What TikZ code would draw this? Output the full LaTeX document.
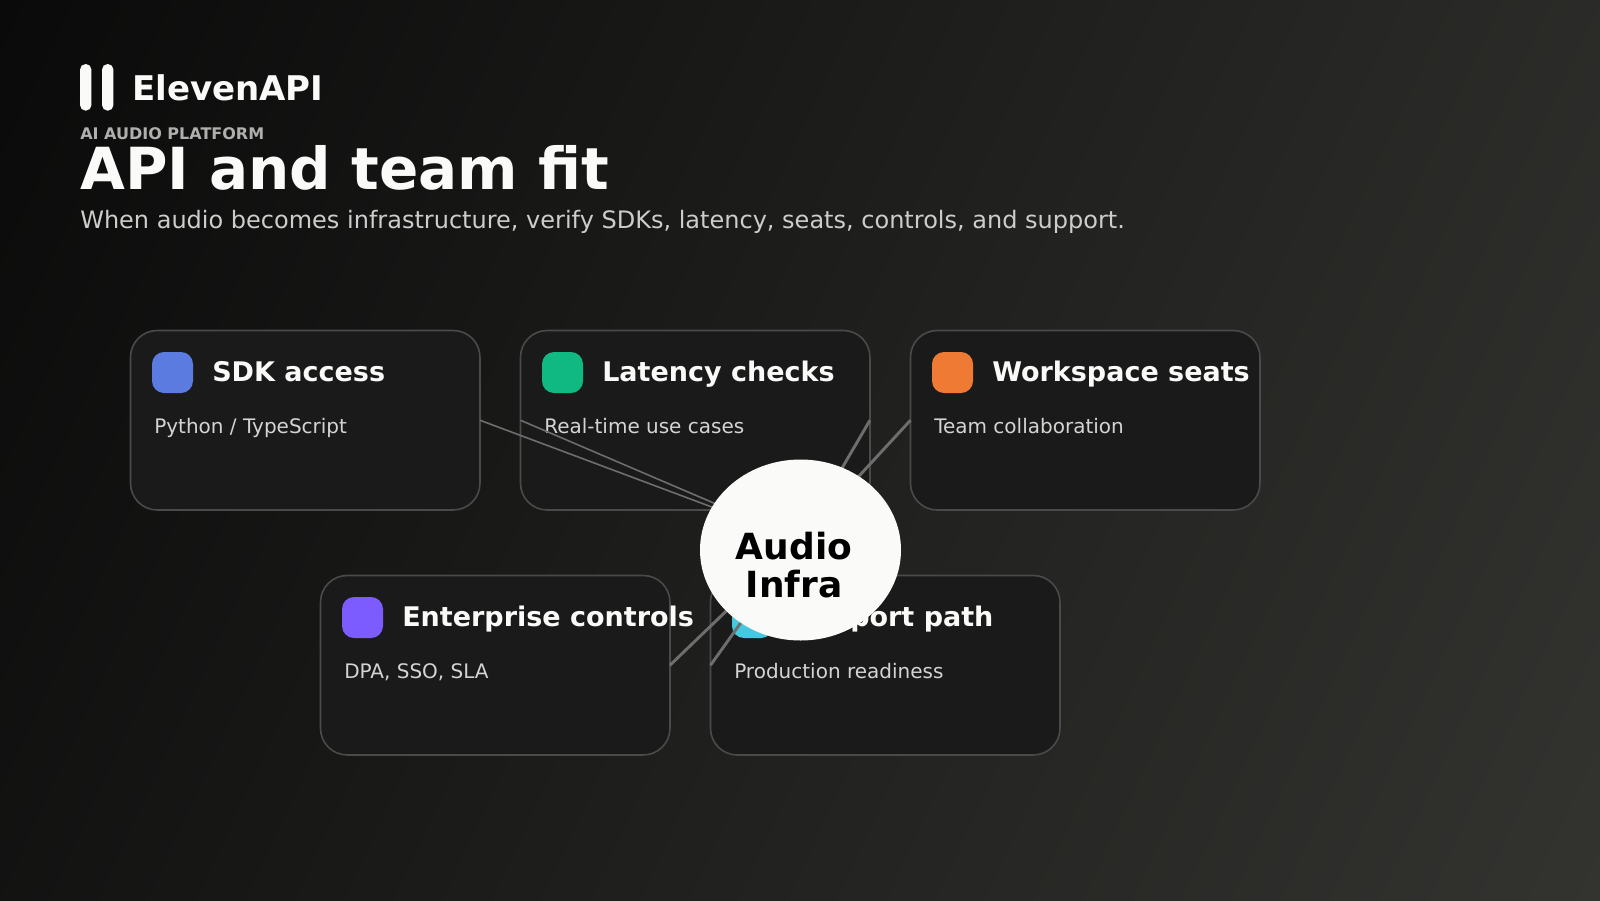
\documentclass[tikz,border=0pt]{standalone}
\usepackage{fontspec}
\setmainfont{DejaVu Sans}
\usetikzlibrary{shapes.geometric}
\definecolor{bgdark}{HTML}{0A0A0A}
\definecolor{bglight}{HTML}{333330}
\definecolor{cardfill}{HTML}{1A1A1A}
\definecolor{cardline}{HTML}{4A4A4A}
\definecolor{linkline}{HTML}{6E6E6E}
\definecolor{paper}{HTML}{FAFAF8}
\definecolor{iconblue}{HTML}{5B7BE0}
\definecolor{icongreen}{HTML}{10B981}
\definecolor{iconorange}{HTML}{EE7A34}
\definecolor{iconpurple}{HTML}{7C5CFF}
\definecolor{iconcyan}{HTML}{45C8E0}
\newcommand{\px}[2]{\fontsize{#1}{#2}\selectfont}
\tikzset{
  card/.style={draw=cardline,fill=cardfill,line width=1.2pt,rounded corners=20pt,
    minimum width=262.1pt,minimum height=134.6pt,inner sep=0pt,outer sep=0pt,anchor=north west},
  icon/.style={fill=#1,rounded corners=9pt,minimum size=30.75pt,inner sep=0pt,outer sep=0pt,anchor=north west},
  cardtitle/.style={text=paper,font=\bfseries\px{20.25}{24},inner sep=0pt,anchor=base west},
  cardtext/.style={text=paper!85!black,font=\px{15}{18},inner sep=0pt,anchor=base west},
  logobar/.style={fill=paper,rounded corners=4.2pt,minimum width=8.6pt,minimum height=35pt,inner sep=0pt,outer sep=0pt,anchor=north west},
  thinlink/.style={draw=linkline,line width=1.2pt},
  thicklink/.style={draw=linkline,line width=2.2pt}
}
\begin{document}
\begin{tikzpicture}[x=0.75pt,y=-0.75pt]
  \useasboundingbox (0,0) rectangle (1600,900);
  \begin{scope}
    \clip (0,0) rectangle (1600,900);
    \shade[top color=bgdark,bottom color=bglight,shading angle=65]
      (800,450) ++(-915,-915) rectangle ++(1830,1830);
  \end{scope}

  % header
  \node[logobar] (barleft) at (80,64) {};
  \node[logobar] (barright) at (102,64) {};
  \node[text=paper,font=\bfseries\px{25.5}{28},inner sep=0pt,anchor=base west] (brand) at (132,100) {ElevenAPI};
  \node[text=paper!70!black,font=\bfseries\px{12}{14},inner sep=0pt,anchor=base west] (eyebrow) at (80,139) {AI AUDIO PLATFORM};
  \node[text=paper,font=\bfseries\px{43.5}{50},inner sep=0pt,anchor=base west] (headline) at (80,189) {API and team fit};
  \node[text=paper!82!black,font=\px{18}{22},inner sep=0pt,anchor=base west] (subline) at (80,228) {When audio becomes infrastructure, verify SDKs, latency, seats, controls, and support.};

  % upper row
  \begin{scope}[shift={(130,330)}]
    \node[card] (sdk) at (0.5,0.5) {};
    \node[icon=iconblue] (sdkicon) at (22,22) {};
    \node[cardtitle] (sdktitle) at (82,51.5) {SDK access};
    \node[cardtext] (sdktext) at (24,103) {Python / TypeScript};
  \end{scope}

  \begin{scope}[shift={(520,330)}]
    \node[card] (latency) at (0.5,0.5) {};
    \node[icon=icongreen] (latencyicon) at (22,22) {};
    \node[cardtitle] (latencytitle) at (82,51.5) {Latency checks};
    \node[cardtext] (latencytext) at (24,103) {Real-time use cases};
  \end{scope}

  \begin{scope}[shift={(910,330)}]
    \node[card] (seats) at (0.5,0.5) {};
    \node[icon=iconorange] (seatsicon) at (22,22) {};
    \node[cardtitle] (seatstitle) at (82,51.5) {Workspace seats};
    \node[cardtext] (seatstext) at (24,103) {Team collaboration};
  \end{scope}

  % lower row
  \begin{scope}[shift={(320,575)}]
    \node[card] (controls) at (0.5,0.5) {};
    \node[icon=iconpurple] (controlsicon) at (22,22) {};
    \node[cardtitle] (controlstitle) at (82,51.5) {Enterprise controls};
    \node[cardtext] (controlstext) at (24,103) {DPA, SSO, SLA};
  \end{scope}

  \begin{scope}[shift={(710,575)}]
    \node[card] (support) at (0.5,0.5) {};
    \node[icon=iconcyan] (supporticon) at (22,22) {};
    \node[cardtitle] (supporttitle) at (82,51.5) {Support path};
    \node[cardtext] (supporttext) at (24,103) {Production readiness};
  \end{scope}

  % links run under the hub
  \coordinate (hubpoint) at (800,540);
  \draw[thinlink] (sdk.east) -- (hubpoint);
  \draw[thinlink] (latency.west) -- (hubpoint);
  \draw[thicklink] (latency.east) -- (hubpoint);
  \draw[thicklink] (seats.west) -- (hubpoint);
  \draw[thicklink] (controls.east) -- (hubpoint);
  \draw[thicklink] (support.west) -- (hubpoint);

  \node[ellipse,fill=paper,minimum width=150.75pt,minimum height=135.75pt,inner sep=0pt,outer sep=0pt] (hub) at (800.5,550) {};
  \node[text=black,font=\bfseries\px{27}{28.8},align=center,inner sep=0pt,anchor=base] (hubtop) at (794,559) {Audio};
  \node[text=black,font=\bfseries\px{27}{28.8},align=center,inner sep=0pt,anchor=base] (hubbottom) at (794,597.5) {Infra};
\end{tikzpicture}
\end{document}
